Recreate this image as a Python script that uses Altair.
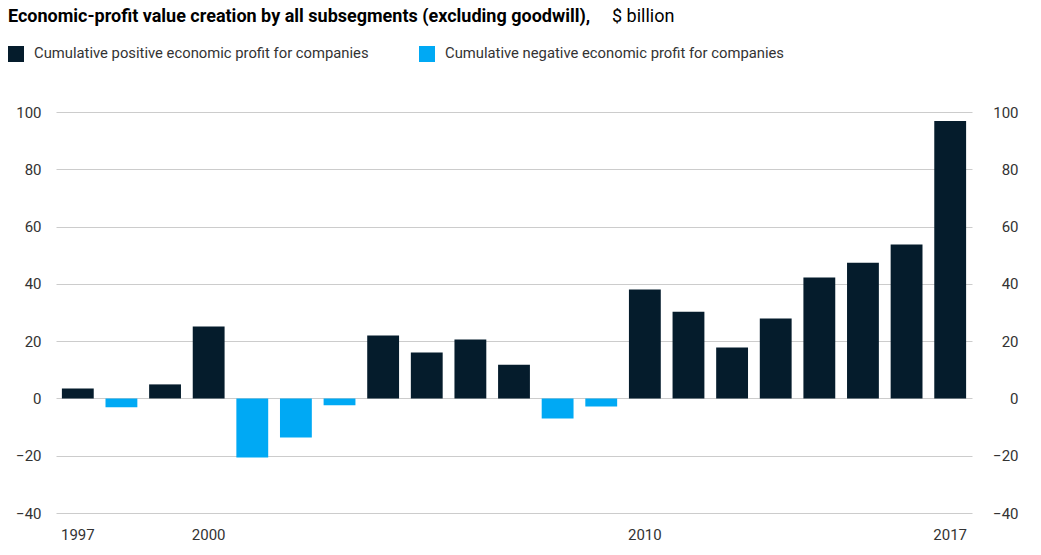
import altair as alt
import pandas as pd

years = list(range(1997, 2018))
values = [3.5, -3.1, 4.9, 25.1, -20.6, -13.6, -2.4, 22.0, 16.0, 20.6, 11.8,
          -7.0, -2.8, 38.0, 30.3, 17.8, 27.9, 42.2, 47.4, 53.7, 96.9]
series_names = ["Cumulative positive economic profit for companies",
                "Cumulative negative economic profit for companies"]
series_colors = ["#051C2C", "#00A9F4"]
shown_years = [1997, 2000, 2010, 2017]
title_bold = "Economic-profit value creation by all subsegments (excluding goodwill),"
title_unit = "$ billion"

df = pd.DataFrame({
    "year": [str(y) for y in years],
    "value": values,
    "series": [series_names[0] if v >= 0 else series_names[1] for v in values],
})

FONT = "Roboto"
ydomain = [-40, 100]
yticks = [-40, -20, 0, 20, 40, 60, 80, 100]
label_expr = "indexof([" + ",".join(f"'{y}'" for y in shown_years) + "], datum.value) >= 0 ? datum.value : ''"

xscale = alt.Scale(paddingInner=0.27, paddingOuter=0.135)
xaxis = alt.Axis(labelExpr=label_expr, labelAngle=0, ticks=False, domain=False,
                 labelFont=FONT, labelFontSize=15, labelColor="#333333",
                 labelPadding=14, grid=False)

bars = alt.Chart(df).mark_bar().encode(
    x=alt.X("year:O", title=None, scale=xscale, axis=xaxis),
    y=alt.Y("value:Q", title=None, scale=alt.Scale(domain=ydomain, nice=False),
            axis=alt.Axis(orient="left", values=yticks, ticks=False, domain=False,
                          labelFont=FONT, labelFontSize=15, labelColor="#333333",
                          labelAlign="right", labelPadding=15,
                          gridColor="#cccccc", gridWidth=1)),
    color=alt.Color("series:N", title=None,
                    scale=alt.Scale(domain=series_names, range=series_colors),
                    legend=alt.Legend(orient="none", legendX=-48, legendY=-66,
                                      direction="horizontal", symbolType="square",
                                      symbolSize=256, symbolStrokeWidth=0,
                                      labelFont=FONT, labelFontSize=14.8,
                                      labelColor="#333333", labelLimit=600,
                                      labelOffset=10, columnPadding=50, padding=0)),
)

right_axis = alt.Chart(df).mark_bar(opacity=0).encode(
    x=alt.X("year:O", title=None, scale=xscale, axis=xaxis),
    y=alt.Y("value:Q", title=None, scale=alt.Scale(domain=ydomain, nice=False),
            axis=alt.Axis(orient="right", values=yticks, ticks=False, domain=False,
                          grid=False, labelFont=FONT, labelFontSize=15,
                          labelColor="#333333", labelAlign="right", labelPadding=46)),
)

t1 = alt.Chart(pd.DataFrame({"t": [title_bold]})).mark_text(
    align="left", baseline="middle", font=FONT, fontSize=18, fontWeight="bold",
    color="#000000").encode(x=alt.value(-48), y=alt.value(-95), text="t:N")
t2 = alt.Chart(pd.DataFrame({"t": [title_unit]})).mark_text(
    align="left", baseline="middle", font=FONT, fontSize=18,
    color="#000000").encode(x=alt.value(556), y=alt.value(-95), text="t:N")

chart = alt.layer(bars, right_axis, t1, t2).resolve_scale(y="independent").properties(
    width=916, height=401,
    padding={"left": 48, "top": 104, "right": 53, "bottom": 40},
    autosize=alt.AutoSizeParams(type="none"),
).configure_view(stroke=None)

chart.save("out.html", embed_options={"renderer": "svg", "actions": False})
